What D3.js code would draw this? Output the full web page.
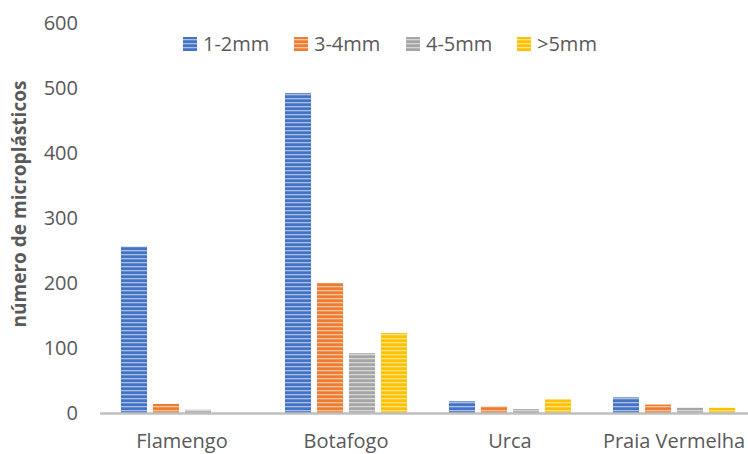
<!DOCTYPE html>
<html>
<head>
<meta charset="utf-8">
<script src="https://cdn.jsdelivr.net/npm/d3@7"></script>
<style>
  body { margin:0; background:#fff; }
  svg text { font-family:"Open Sans", sans-serif; fill:#595959; }
</style>
</head>
<body>
<svg id="chart"></svg>
<script>
// data
var sites = ["Flamengo","Botafogo","Urca","Praia Vermelha"]
var sizes = ["1-2mm","3-4mm","4-5mm",">5mm"]
var colors = ["#4472C4","#ED7D31","#A5A5A5","#FFC000"]
var v12 = [256, 492, 18, 24]
var v34 = [14, 200, 10, 13]
var v45 = [5, 92, 6, 8]
var v5 = [0, 123, 21, 8]
var yTicks = [0,100,200,300,400,500,600]

var screen = {width:748,height:454}
var margins = {left:100,top:23,bottom:41}

var svg = d3.select("#chart")
    .attr("width",screen.width)
    .attr("height",screen.height)

var series = [v12,v34,v45,v5]
var rows = sites.map(function(site,i)
{
    return {site:site, values:series.map(function(s){return s[i]})}
})

// striped fills like the excel pattern
var defs = svg.append("defs")
colors.forEach(function(c,i)
{
    var p = defs.append("pattern")
        .attr("id","stripe"+i)
        .attr("patternUnits","userSpaceOnUse")
        .attr("width",4)
        .attr("height",4)
    p.append("rect").attr("width",4).attr("height",4).attr("fill",c)
    p.append("rect").attr("y",2).attr("width",4).attr("height",1.3)
        .attr("fill","#fff").attr("opacity",0.55)
})

var x0 = d3.scaleBand()
    .domain(sites)
    .range([margins.left, margins.left+164*4])

var x1 = d3.scaleBand()
    .domain(d3.range(sizes.length))
    .range([0, x0.bandwidth()])
    .paddingInner(0.1875)
    .paddingOuter(0.656)

var yScale = d3.scaleLinear()
    .domain([0,600])
    .range([screen.height-margins.bottom, margins.top])

// y tick labels
svg.append("g").selectAll("text")
    .data(yTicks)
    .enter()
    .append("text")
    .attr("x",78)
    .attr("y",function(d){return yScale(d)})
    .attr("dy","0.36em")
    .attr("text-anchor","end")
    .style("font-size","20px")
    .text(function(d){return d})

// bars
var groups = svg.append("g").selectAll("g")
    .data(rows)
    .enter()
    .append("g")
    .attr("transform",function(d){return "translate("+x0(d.site)+",0)"})

groups.selectAll("rect")
    .data(function(d){return d.values})
    .enter()
    .append("rect")
    .attr("x",function(d,i){return x1(i)})
    .attr("width",x1.bandwidth())
    .attr("y",function(d){return yScale(d)})
    .attr("height",function(d){return yScale(0)-yScale(d)})
    .attr("fill",function(d,i){return "url(#stripe"+i+")"})

// baseline
svg.append("line")
    .attr("x1",margins.left)
    .attr("x2",margins.left+164*4)
    .attr("y1",yScale(0)+0.5)
    .attr("y2",yScale(0)+0.5)
    .attr("stroke","#BFBFBF")
    .attr("stroke-width",2.5)

// category labels
svg.append("g").selectAll("text")
    .data(sites)
    .enter()
    .append("text")
    .attr("x",function(d){return x0(d)+x0.bandwidth()/2})
    .attr("y",448)
    .attr("text-anchor","middle")
    .style("font-size","20px")
    .text(function(d){return d})

// y axis title
svg.append("g")
    .attr("transform","translate(26,"+((85+323)/2)+")")
    .append("text")
    .attr("transform","rotate(-90)")
    .attr("text-anchor","middle")
    .style("font-size","19px")
    .style("font-weight","bold")
    .text("número de microplásticos")

// legend
var legendX = [183,294,406,517]
var legend = svg.append("g").selectAll("g")
    .data(sizes)
    .enter()
    .append("g")
    .attr("transform",function(d,i){return "translate("+legendX[i]+",37)"})

legend.append("rect")
    .attr("width",14)
    .attr("height",14)
    .attr("fill",function(d,i){return "url(#stripe"+i+")"})

legend.append("text")
    .attr("x",20)
    .attr("y",7)
    .attr("dy","0.36em")
    .style("font-size","20px")
    .text(function(d){return d})
</script>
</body>
</html>
